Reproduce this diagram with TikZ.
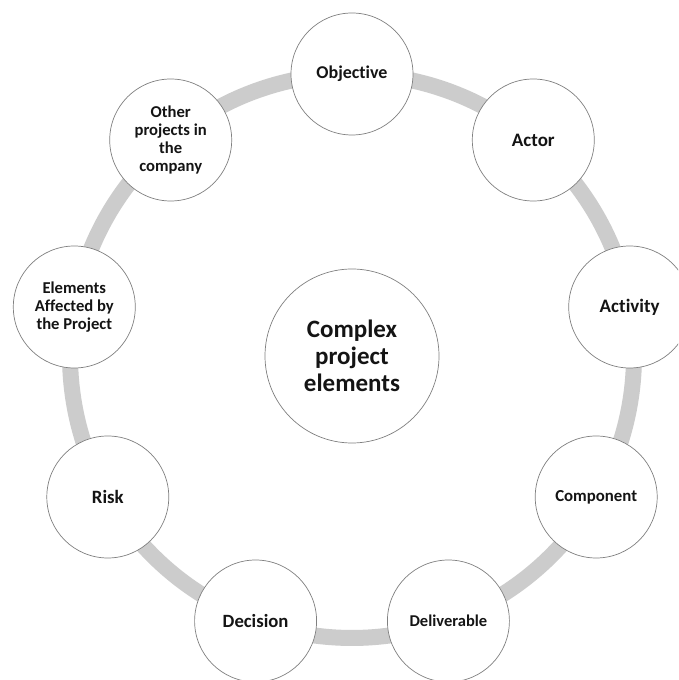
\documentclass[tikz,border=0pt]{standalone}
\usepackage{fontspec}
\setmainfont{Carlito}[Ligatures=NoCommon]
\usetikzlibrary{backgrounds}
\begin{document}
\begin{tikzpicture}[x=1pt,y=1pt,
  item/.style={circle, draw=black!50, line width=0.7pt, fill=white, minimum size=122pt, inner sep=0pt, align=center, text=black!92},
  hub/.style={item, minimum size=174pt},
  ringline/.style={draw=black!20, line width=16pt, bend left=20, looseness=0.88}
]
\useasboundingbox (0,0) rectangle (678,680);
\clip (0,0) rectangle (678,680);

\node[hub, font={\bfseries\fontsize{25}{27.3}\selectfont}] (center) at (352,324) {Complex\\project\\elements};

\node[item, font={\bfseries\fontsize{18}{19.3}\selectfont}] (obj) at (352,606) {Objective};
\node[item, font={\bfseries\fontsize{19}{20.3}\selectfont}] (act) at (533.3,540) {Actor};
\node[item, font={\bfseries\fontsize{19}{20.3}\selectfont}] (actv) at (629.7,373) {Activity};
\node[item, font={\bfseries\fontsize{16.8}{18}\selectfont}] (comp) at (596.2,183) {Component};
\node[item, font={\bfseries\fontsize{16.5}{17.7}\selectfont}] (deliv) at (448.4,59) {Deliverable};
\node[item, font={\bfseries\fontsize{18.7}{20}\selectfont}] (dec) at (255.6,59) {Decision};
\node[item, font={\bfseries\fontsize{18.8}{20}\selectfont}] (risk) at (107.8,183) {Risk};
\node[item, font={\bfseries\fontsize{16.6}{17.7}\selectfont}] (aff) at (74.3,373) {Elements\\Affected by\\the Project};
\node[item, font={\bfseries\fontsize{16.6}{17.7}\selectfont}] (other) at (170.7,540) {Other\\projects in\\the\\company};

\begin{pgfonlayer}{background}
  \fill[white] (0,0) rectangle (678,680);
  \draw[ringline] (obj.center) to (act.center);
  \draw[ringline] (act.center) to (actv.center);
  \draw[ringline] (actv.center) to (comp.center);
  \draw[ringline] (comp.center) to (deliv.center);
  \draw[ringline] (deliv.center) to (dec.center);
  \draw[ringline] (dec.center) to (risk.center);
  \draw[ringline] (risk.center) to (aff.center);
  \draw[ringline] (aff.center) to (other.center);
  \draw[ringline] (other.center) to (obj.center);
\end{pgfonlayer}
\end{tikzpicture}
\end{document}
